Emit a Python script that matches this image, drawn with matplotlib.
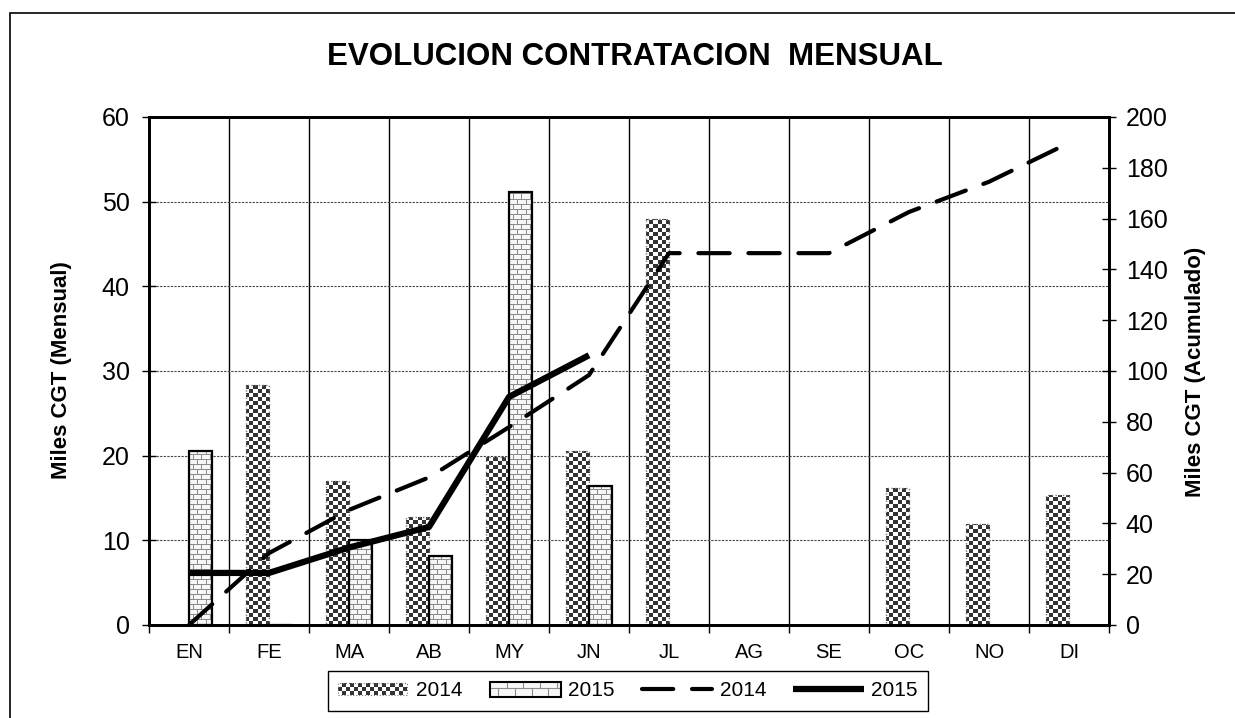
import numpy as np
import matplotlib
matplotlib.use("Agg")
import matplotlib.pyplot as plt
from matplotlib.patches import Rectangle
from matplotlib.lines import Line2D
from matplotlib.legend_handler import HandlerBase

plt.rcParams['font.family'] = ['Liberation Sans', 'DejaVu Sans']

# data (miles CGT)
months = ['EN', 'FE', 'MA', 'AB', 'MY', 'JN', 'JL', 'AG', 'SE', 'OC', 'NO', 'DI']
mensual_2014 = [0, 28.3, 17.0, 12.8, 19.8, 20.5, 48.0, 0, 0, 16.2, 11.9, 15.3]
mensual_2015 = [20.5, 0, 10.0, 8.1, 51.2, 16.4]
series_names = ['2014', '2015']

acum_2014 = np.cumsum(mensual_2014)
acum_2015 = np.cumsum(mensual_2015)

W, H = 1235, 718
ax_px = (149, 93, 960, 508)   # left, bottom, width, height in pixels


def checker_tex(h, w, cell=4):
    yy, xx = np.indices((h, w))
    on = ((yy // cell + xx // cell) % 2).astype(bool)
    img = np.ones((h, w, 3))
    img[on] = 0.2
    return img


def brick_tex(h, w, bh=5, bw=8):
    yy, xx = np.indices((h, w))
    course = yy // bh
    mortar = (yy % bh == 0) | ((xx + (course % 2) * (bw // 2)) % bw == 0)
    img = np.ones((h, w, 3)) * 0.97
    img[mortar] = 0.55
    return img


class TextureHandler(HandlerBase):
    """ Draws a small checker or brick swatch in the legend """

    def __init__(self, kind):
        super().__init__()
        self.kind = kind

    def create_artists(self, legend, orig_handle, xdescent, ydescent, width, height, fontsize, trans):
        x0, y0 = -xdescent, -ydescent
        arts = []
        if self.kind == 'checker':
            cell = 2.9
            nx, ny = int(width / cell), max(int(height / cell), 2)
            h = ny * cell
            y0 = y0 + (height - h) / 2
            for i in range(nx):
                for j in range(ny):
                    if (i + j) % 2:
                        arts.append(Rectangle((x0 + i * cell, y0 + j * cell), cell, cell,
                                              facecolor='#333333', edgecolor='none', transform=trans))
            arts.append(Rectangle((x0, y0), nx * cell, h, fill=False, edgecolor='#777777',
                                  linestyle=':', lw=0.8, transform=trans))
        else:
            arts.append(Rectangle((x0, y0), width, height, facecolor='#f7f7f7', edgecolor='none',
                                  transform=trans))
            arts.append(Line2D([x0, x0 + width], [y0 + height * 0.55] * 2, color='#8c8c8c',
                               lw=0.8, transform=trans))
            for k, xv in enumerate(np.arange(x0 + 6, x0 + width, 6)):
                ya, yb = (y0 + height * 0.55, y0 + height) if k % 2 else (y0, y0 + height * 0.55)
                arts.append(Line2D([xv, xv], [ya, yb], color='#8c8c8c', lw=0.8, transform=trans))
            arts.append(Rectangle((x0, y0), width, height, fill=False, edgecolor='black',
                                  lw=1.5, transform=trans))
        return arts


fig = plt.figure(figsize=(W / 100, H / 100), dpi=100)
ax = fig.add_axes([ax_px[0] / W, ax_px[1] / H, ax_px[2] / W, ax_px[3] / H])
ax2 = ax.twinx()

x = np.arange(len(months))
bw = 0.29
xlim = (-0.5, len(months) - 0.5)
ylim = (0, 60)

tex14 = checker_tex(ax_px[3], ax_px[2])
tex15 = brick_tex(ax_px[3], ax_px[2])

bars14 = ax.bar(x - bw, mensual_2014, bw, align='edge', color='white', edgecolor='none', zorder=2)
bars15 = ax.bar(x[:len(mensual_2015)], mensual_2015, bw, align='edge', color='white',
                edgecolor='none', zorder=2)

for bars, tex in ((bars14, tex14), (bars15, tex15)):
    for b in bars:
        if b.get_height() <= 0:
            continue
        im = ax.imshow(tex, extent=(*xlim, *ylim), origin='lower', aspect='auto',
                       interpolation='nearest', zorder=2.2)
        im.set_clip_path(b)

ax.bar(x - bw, mensual_2014, bw, align='edge', fill=False, edgecolor='#777777', linestyle=':',
       lw=1.0, zorder=2.5)
ax.bar(x[:len(mensual_2015)], mensual_2015, bw, align='edge', fill=False, edgecolor='black',
       lw=1.6, zorder=2.5)

ax.set_xlim(*xlim)
ax.set_ylim(*ylim)
ax2.set_ylim(0, 200)

# cumulative lines on the right axis
ax2.plot(x, acum_2014, color='black', lw=3, dashes=(7.5, 4.5), dash_capstyle='round',
         clip_on=False, zorder=3)
ax2.plot(x[:len(acum_2015)], acum_2015, color='black', lw=4.5, solid_capstyle='butt',
         clip_on=False, zorder=4)

# grid and ticks
ax.set_axisbelow(True)
ax.set_yticks(np.arange(0, 61, 10))
ax.yaxis.grid(True, linestyle=(0, (2, 1.2)), color='#444444', lw=0.8)
ax.set_xticks(x)
ax.set_xticklabels(months)
ax.set_xticks(np.arange(-0.5, len(months), 1), minor=True)
ax.xaxis.grid(True, which='minor', color='black', lw=1.0)
ax.tick_params(axis='x', which='major', length=0, pad=13, labelsize=14.5)
ax.tick_params(axis='x', which='minor', length=6, width=1, direction='out')
ax.tick_params(axis='y', direction='inout', length=10, width=1, labelsize=18, pad=9)
ax2.set_yticks(np.arange(0, 201, 20))
ax2.tick_params(axis='y', direction='inout', length=10, width=1, labelsize=18, pad=7)

for a in (ax, ax2):
    for s in a.spines.values():
        s.set_linewidth(2)

fig.text(635 / W, 1 - 57 / H, 'EVOLUCION CONTRATACION  MENSUAL', ha='center', va='center',
         fontsize=22.5, fontweight='bold')
fig.text(62 / W, 1 - 370 / H, 'Miles CGT (Mensual)', rotation=90, ha='center', va='center',
         fontsize=16, fontweight='bold')
fig.text(1195 / W, 1 - 372 / H, 'Miles CGT (Acumulado)', rotation=90, ha='center', va='center',
         fontsize=16, fontweight='bold')

# outer frame of the chart
fig.add_artist(Rectangle((10 / W, -0.1), 1.0, 1.1 - 13 / H, transform=fig.transFigure,
                         fill=False, edgecolor='black', lw=1.2))

h14 = Rectangle((0, 0), 1, 1)
h15 = Rectangle((0, 0), 1, 1)
l14 = Line2D([], [], color='black', lw=3, dashes=(7.5, 4.5), dash_capstyle='round')
l15 = Line2D([], [], color='black', lw=4.5, solid_capstyle='butt')
fig.legend([h14, h15, l14, l15], series_names + series_names, ncol=4, loc='center',
           bbox_to_anchor=(628 / W, 1 - 691 / H), fontsize=15, frameon=True,
           fancybox=False, edgecolor='black', framealpha=1, handlelength=3.4,
           handletextpad=0.35, columnspacing=1.3, borderpad=0.5,
           handler_map={h14: TextureHandler('checker'), h15: TextureHandler('brick')})

fig.savefig('out.png', dpi=100)
